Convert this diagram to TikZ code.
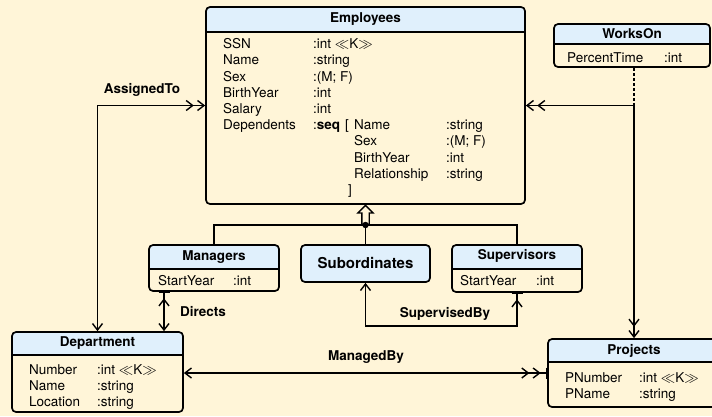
\documentclass[tikz,border=0pt]{standalone}
\usepackage{fontspec}
\setmainfont{TeX Gyre Heros}
\usetikzlibrary{arrows.meta,shapes.arrows}
\definecolor{bgcol}{RGB}{255,245,216}
\definecolor{headcol}{RGB}{224,240,252}
\newcommand{\attrrow}[3][90pt]{\makebox[#1][l]{#2}#3}
\tikzset{cls/.style={draw, line width=1.7pt, rounded corners=4pt, fill=bgcol, inner sep=0pt,
  path picture={\fill[headcol] (path picture bounding box.north west) rectangle ([yshift=-#1]path picture bounding box.north east);
    \draw[line width=1.6pt] ([yshift=-#1]path picture bounding box.north west) -- ([yshift=-#1]path picture bounding box.north east);}}}
\tikzset{clsplain/.style={draw, line width=1.7pt, rounded corners=4pt, fill=headcol, inner sep=0pt}}
\tikzset{title/.style={font=\fontsize{13.5}{16}\selectfont\bfseries, inner sep=0pt, anchor=base}}
\tikzset{attrs/.style={font=\fontsize{13.5}{16.2}\selectfont, align=left, inner sep=0pt, anchor=north west}}
\tikzset{lbl/.style={font=\fontsize{13.5}{16}\selectfont\bfseries, inner sep=0pt, anchor=base}}
\tikzset{rel/.style={color=black, line width=1.4pt}}
\tikzset{chev/.tip={Straight Barb[length=6.5pt,width=10pt]}}

\begin{document}
\begin{tikzpicture}[x=1pt, y=-1pt]

  \fill[bgcol] (0,0) rectangle (712,416);
  \useasboundingbox (0,0) rectangle (712,416);

  % classes
  \node[cls=25pt, minimum width=319pt, minimum height=197pt] (emp) at (365.5,105.5) {};
  \node[title] (emp-t) at ([yshift=-16pt]emp.north) {Employees};
  \node[attrs] (emp-a) at (223,38.5) {%
    \attrrow{SSN}{:int $\ll$K$\gg$}\\
    \attrrow{Name}{:string}\\
    \attrrow{Sex}{:(M; F)}\\
    \attrrow{BirthYear}{:int}\\
    \attrrow{Salary}{:int}\\
    \attrrow{Dependents}{\makebox[32pt][l]{:\textbf{seq}}\makebox[9pt][l]{[}\attrrow[92pt]{Name}{:string}}\\
    \hspace*{131pt}\attrrow[92pt]{Sex}{:(M; F)}\\
    \hspace*{131pt}\attrrow[92pt]{BirthYear}{:int}\\
    \hspace*{131pt}\attrrow[92pt]{Relationship}{:string}\\
    \hspace*{125pt}]};

  \node[cls=20pt, minimum width=156pt, minimum height=43pt] (works) at (632,45.5) {};
  \node[title] (works-t) at ([yshift=-15.3pt]works.north) {WorksOn};
  \node[attrs] (works-a) at (567,52.3) {\attrrow[97pt]{PercentTime}{:int}};

  \node[cls=24pt, minimum width=130pt, minimum height=46pt] (mgr) at (214,268) {};
  \node[title] (mgr-t) at ([yshift=-16.7pt]mgr.north) {Managers};
  \node[attrs] (mgr-a) at (158,275.3) {\attrrow[75pt]{StartYear}{:int}};

  \node[clsplain, minimum width=129pt, minimum height=37pt] (sub) at (365.5,263.5) {};
  \node[title, font=\fontsize{15}{18}\selectfont\bfseries] (sub-t) at ([yshift=-24pt]sub.north) {Subordinates};

  \node[cls=24pt, minimum width=130pt, minimum height=47pt] (sup) at (517,268.5) {};
  \node[title] (sup-t) at ([yshift=-15.7pt]sup.north) {Supervisors};
  \node[attrs] (sup-a) at (460,275.3) {\attrrow[76pt]{StartYear}{:int}};

  \node[cls=23pt, minimum width=171pt, minimum height=80pt] (dept) at (97.5,372) {};
  \node[title] (dept-t) at ([yshift=-15.3pt]dept.north) {Department};
  \node[attrs] (dept-a) at (29,364.3) {%
    \attrrow[68pt]{Number}{:int $\ll$K$\gg$}\\
    \attrrow[68pt]{Name}{:string}\\
    \attrrow[68pt]{Location}{:string}};

  \node[cls=23pt, minimum width=172pt, minimum height=68pt] (proj) at (634,373) {};
  \node[title] (proj-t) at ([yshift=-16pt]proj.north) {Projects};
  \node[attrs] (proj-a) at (565,372.3) {%
    \attrrow[74pt]{PNumber}{:int $\ll$K$\gg$}\\
    \attrrow[74pt]{PName}{:string}};

  % generalisation
  \coordinate (gen) at (365.5,225);
  \draw[rel] (mgr.north) |- (gen) -| (sup.north);
  \draw[rel] (sub.north) -- (gen);
  \node[single arrow, draw, fill=bgcol, line width=1.3pt, inner sep=3pt, single arrow head extend=4pt,
    minimum height=19pt, shape border rotate=90, anchor=tail] (gen-arrow) at (gen) {};
  \fill (gen) circle (3.2pt);

  % associations
  \draw[rel, {chev}-{chev[sep=3pt] chev}] (dept.north) |- (emp.west);
  \node[lbl] (assigned) at (142,93.3) {AssignedTo};

  \coordinate (dirx) at (164,0);
  \draw[rel, {chev}-{chev[sep=5pt] Bar[width=11pt]}] (dirx |- dept.north) -- (dirx |- mgr.south);
  \node[lbl] (directs) at (203,316.7) {Directs};

  \draw[rel, {chev}-{chev[sep=5pt] Bar[width=11pt]}] (sub.south) -- ++(0,43) -| (sup.south);
  \node[lbl] (supby) at (445,317.3) {SupervisedBy};

  \draw[rel, {chev}-{chev[sep=3pt] chev[sep=5pt] Bar[width=11pt]}] (dept.east |- proj.west) -- (proj.west);
  \node[lbl] (managed) at (366,360) {ManagedBy};

  \coordinate (wcorner) at (proj.north |- emp.east);
  \draw[rel, dashed, dash pattern=on 3pt off 2pt] (works.south -| wcorner) -- (wcorner);
  \draw[rel, -{chev[sep=3pt] chev}] (wcorner) -- (emp.east);
  \draw[rel, -{chev[sep=3pt] chev}] (wcorner) -- (proj.north);
\end{tikzpicture}
\end{document}
